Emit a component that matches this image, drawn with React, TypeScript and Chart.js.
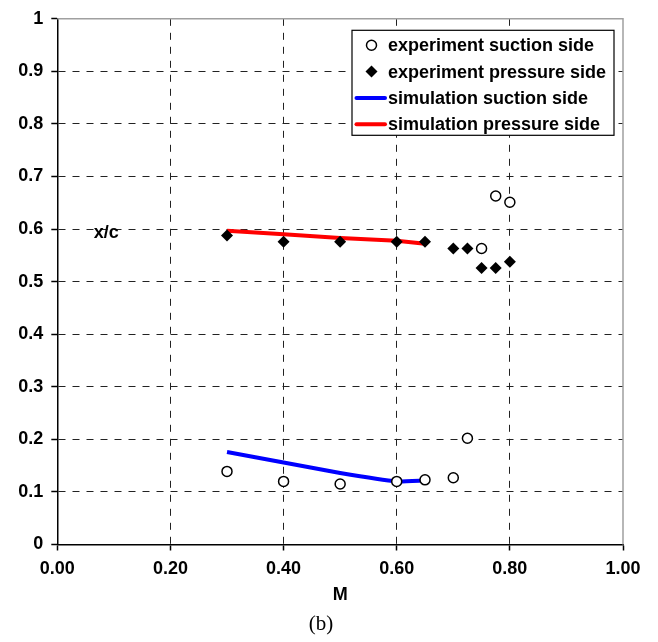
import React, { useEffect, useRef } from 'react';
import { Chart, registerables } from 'chart.js';

Chart.register(...registerables);

// ---- data ----
const expMach = [0.3, 0.4, 0.5, 0.6, 0.65, 0.7, 0.725, 0.75, 0.775, 0.8];
const expSuctionSide = [0.139, 0.12, 0.115, 0.12, 0.123, 0.127, 0.202, 0.563, 0.663, 0.651];
const expPressureSide = [0.588, 0.576, 0.576, 0.576, 0.576, 0.563, 0.563, 0.526, 0.526, 0.538];
const simMach = [0.3, 0.4, 0.5, 0.6, 0.65];
const simSuctionSide = [0.176, 0.156, 0.136, 0.12, 0.122];
const simPressureSide = [0.597, 0.59, 0.583, 0.578, 0.572];
const seriesLabels = [
  'experiment suction side',
  'experiment pressure side',
  'simulation suction side',
  'simulation pressure side',
];
const xAxisTitle = 'M';
const yAxisTitle = 'x/c';
const caption = '(b)';

const FONT_FAMILY = '"Liberation Sans", Arial, sans-serif';
const FONT_SIZE = 18;

const toPoints = (xs: number[], ys: number[]) => xs.map((x, i) => ({ x, y: ys[i] }));

const near = (a: number, b: number) => Math.abs(a - b) < 1e-9;

const framePlugin = {
  id: 'frame',
  beforeDatasetsDraw(chart: any) {
    const { ctx, chartArea } = chart;
    ctx.save();
    ctx.strokeStyle = '#a0a0a0';
    ctx.lineWidth = 1.5;
    ctx.beginPath();
    ctx.moveTo(chartArea.left, chartArea.top);
    ctx.lineTo(chartArea.right, chartArea.top);
    ctx.lineTo(chartArea.right, chartArea.bottom);
    ctx.stroke();
    ctx.restore();
  },
};

const labelsPlugin = {
  id: 'boxLegend',
  afterDatasetsDraw(chart: any) {
    const { ctx, chartArea } = chart;
    const yScale = chart.scales.y;
    ctx.save();
    // y axis title placed inside the plot like the reference
    ctx.font = `bold ${FONT_SIZE}px ${FONT_FAMILY}`;
    ctx.fillStyle = '#000';
    ctx.textAlign = 'center';
    ctx.textBaseline = 'middle';
    ctx.fillText(yAxisTitle, chartArea.left + 49, yScale.getPixelForValue(0.6) + 4);

    // legend box
    const w = 262;
    const h = 105;
    const left = chartArea.right - 271;
    const top = chartArea.top + 11.5;
    ctx.fillStyle = '#fff';
    ctx.fillRect(left, top, w, h);
    ctx.strokeStyle = '#000';
    ctx.lineWidth = 1.2;
    ctx.strokeRect(left, top, w, h);

    ctx.textAlign = 'left';
    chart.data.datasets.forEach((ds: any, i: number) => {
      const y = top + 15 + i * 26.3;
      const mx = left + 19.5;
      ctx.save();
      if (ds.showLine === false) {
        if (ds.pointStyle === 'circle') {
          ctx.beginPath();
          ctx.arc(mx, y, ds.pointRadius, 0, Math.PI * 2);
          ctx.fillStyle = ds.pointBackgroundColor;
          ctx.fill();
          ctx.lineWidth = ds.pointBorderWidth;
          ctx.strokeStyle = ds.pointBorderColor;
          ctx.stroke();
        } else {
          const r = ds.pointRadius;
          ctx.beginPath();
          ctx.moveTo(mx - r, y);
          ctx.lineTo(mx, y - r);
          ctx.lineTo(mx + r, y);
          ctx.lineTo(mx, y + r);
          ctx.closePath();
          ctx.fillStyle = ds.pointBackgroundColor;
          ctx.fill();
        }
      } else {
        ctx.beginPath();
        ctx.moveTo(left + 4.5, y);
        ctx.lineTo(left + 33, y);
        ctx.strokeStyle = ds.borderColor;
        ctx.lineWidth = ds.borderWidth;
        ctx.lineCap = 'round';
        ctx.stroke();
      }
      ctx.restore();
      ctx.fillStyle = '#000';
      ctx.font = `bold ${FONT_SIZE}px ${FONT_FAMILY}`;
      ctx.textBaseline = 'middle';
      ctx.fillText(ds.label, left + 36, y + 1);
    });
    ctx.restore();
  },
};

export default function App() {
  const canvasRef = useRef<HTMLCanvasElement | null>(null);

  useEffect(() => {
    document.body.style.margin = '0';
    const canvas = canvasRef.current;
    if (!canvas) return;
    const font = { family: FONT_FAMILY, size: FONT_SIZE, weight: 'bold' as const };
    const gridColor = (c: any) =>
      c.tick && (near(c.tick.value, 0) || near(c.tick.value, 1)) ? 'rgba(0,0,0,0)' : '#222';
    const chart = new Chart(canvas, {
      type: 'scatter',
      data: {
        datasets: [
          {
            label: seriesLabels[0],
            data: toPoints(expMach, expSuctionSide),
            showLine: false,
            pointStyle: 'circle',
            pointRadius: 5,
            pointBackgroundColor: '#ffffff',
            pointBorderColor: '#000000',
            pointBorderWidth: 1.5,
            order: 1,
          },
          {
            label: seriesLabels[1],
            data: toPoints(expMach, expPressureSide),
            showLine: false,
            pointStyle: 'rectRot',
            pointRadius: 6,
            pointBackgroundColor: '#000000',
            pointBorderColor: '#000000',
            pointBorderWidth: 0,
            order: 2,
          },
          {
            label: seriesLabels[2],
            data: toPoints(simMach, simSuctionSide),
            showLine: true,
            borderColor: '#0000ff',
            borderWidth: 4,
            pointRadius: 0,
            tension: 0.15,
            order: 3,
          },
          {
            label: seriesLabels[3],
            data: toPoints(simMach, simPressureSide),
            showLine: true,
            borderColor: '#ff0000',
            borderWidth: 4,
            pointRadius: 0,
            tension: 0,
            order: 4,
          },
        ],
      } as any,
      options: {
        animation: false,
        responsive: false,
        devicePixelRatio: 1,
        layout: { padding: { left: 0, right: 35, top: 12.7, bottom: 0 } },
        plugins: {
          legend: { display: false },
          tooltip: { enabled: false },
        },
        scales: {
          x: {
            type: 'linear',
            min: 0,
            max: 1,
            ticks: {
              stepSize: 0.2,
              color: '#000',
              font,
              padding: 8,
              maxRotation: 0,
              callback: (v: any) => Number(v).toFixed(2),
            },
            grid: {
              color: gridColor,
              lineWidth: 1,
              drawTicks: true,
              tickLength: 6,
              tickColor: '#000',
              tickWidth: 1.5,
            },
            border: { display: true, color: '#000', width: 1.5, dash: [7, 7] },
            title: {
              display: true,
              text: xAxisTitle,
              color: '#000',
              font,
              padding: { top: 0, bottom: 36 },
            },
            afterFit: (scale: any) => {
              scale.height = 97.5;
            },
          },
          y: {
            type: 'linear',
            min: 0,
            max: 1,
            ticks: {
              stepSize: 0.1,
              color: '#000',
              font,
              padding: 8,
              callback: (v: any) => String(parseFloat(Number(v).toFixed(1))),
            },
            grid: {
              color: gridColor,
              lineWidth: 1,
              drawTicks: true,
              tickLength: 6,
              tickColor: '#000',
              tickWidth: 1.5,
            },
            border: { display: true, color: '#000', width: 1.5, dash: [7, 7] },
            afterFit: (scale: any) => {
              scale.width = 57.3;
            },
          },
        },
      } as any,
      plugins: [framePlugin, labelsPlugin],
    });
    return () => chart.destroy();
  }, []);

  return (
    <div style={{ position: 'relative', width: 658, height: 642, background: '#fff' }}>
      <canvas ref={canvasRef} width={658} height={642} style={{ display: 'block', width: 658, height: 642 }} />
      <div
        style={{
          position: 'absolute',
          left: 291,
          top: 611,
          width: 60,
          textAlign: 'center',
          fontFamily: '"Liberation Serif", "Times New Roman", serif',
          fontSize: 21,
          lineHeight: '24px',
          color: '#000',
        }}
      >
        {caption}
      </div>
    </div>
  );
}
